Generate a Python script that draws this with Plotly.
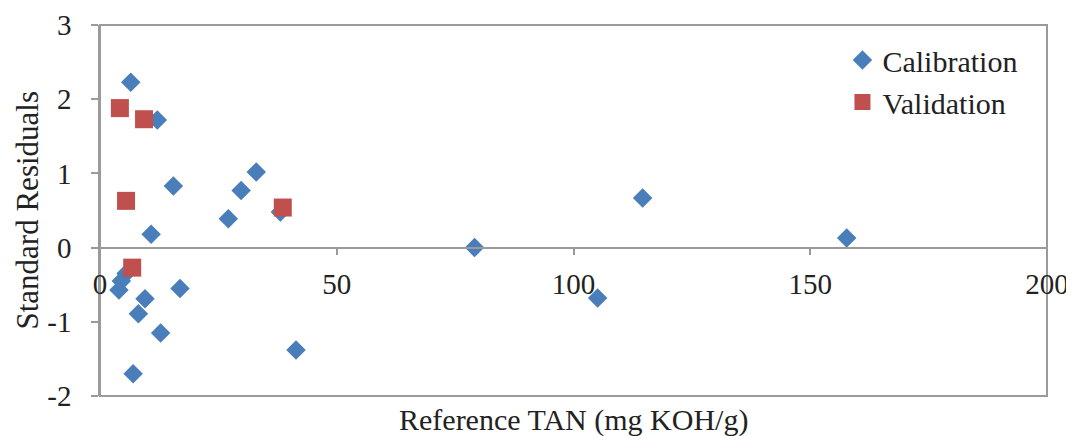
import plotly.graph_objects as go

# Calibration data (Reference TAN, Standard residual)
cal_x = [6.5, 12.1, 15.5, 33.0, 29.8, 27.1, 38.1, 10.8, 5.5, 4.5, 4.0, 9.5, 8.1, 16.9, 12.8, 41.4, 7.0,
         79.1, 105.1, 114.6, 157.7]
cal_y = [2.23, 1.72, 0.83, 1.02, 0.77, 0.39, 0.48, 0.18, -0.35, -0.45, -0.57, -0.69, -0.89, -0.55, -1.15, -1.38, -1.70,
         0.00, -0.68, 0.67, 0.13]

# Validation data
val_x = [4.2, 9.3, 5.5, 6.8, 38.6]
val_y = [1.88, 1.73, 0.63, -0.27, 0.54]

x_ticks = [0, 50, 100, 150, 200]
y_ticks = [-2, -1, 0, 1, 2, 3]
y_ticktext = ["-2", "-1", "0", "1", "2", "3"]

FONT = "Liberation Serif"
GRAY = "#9a9a9a"

fig = go.Figure()
fig.add_trace(go.Scatter(x=cal_x, y=cal_y, mode="markers", name="Calibration",
                         marker=dict(symbol="diamond", size=15, color="#4a7ebb")))
fig.add_trace(go.Scatter(x=val_x, y=val_y, mode="markers", name="Validation",
                         marker=dict(symbol="square", size=18, color="#c0504d")))

fig.update_layout(
    width=1074, height=436,
    margin=dict(l=92, r=35, t=17, b=48),
    paper_bgcolor="white", plot_bgcolor="white",
    font=dict(family=FONT, size=30, color="#222222"),
    showlegend=True,
    legend=dict(x=0.784, y=0.976, xanchor="left", yanchor="top",
                bgcolor="rgba(0,0,0,0)", font=dict(size=30, family=FONT)),
    xaxis=dict(range=[0, 200], tickvals=x_ticks, showgrid=False, zeroline=False,
               showline=True, linecolor=GRAY, linewidth=1.5, automargin=False,
               ticks="outside", ticklen=7, tickcolor=GRAY, tickwidth=1.5,
               anchor="free", position=0.4, ticklabelstandoff=4,
               tickfont=dict(size=29, family=FONT)),
    yaxis=dict(range=[-2, 3], tickvals=y_ticks, ticktext=y_ticktext, showgrid=False, zeroline=False,
               showline=True, linecolor=GRAY, linewidth=1.5, automargin=False,
               ticks="outside", ticklen=7, tickcolor=GRAY, tickwidth=1.5,
               ticklabelstandoff=14,
               tickfont=dict(size=29, family=FONT)),
    shapes=[dict(type="rect", xref="paper", yref="paper", x0=0, y0=0, x1=1, y1=1,
                 line=dict(color=GRAY, width=2), layer="below")],
    annotations=[
        dict(text="Reference TAN (mg KOH/g)", xref="paper", yref="paper", x=0.5, y=0,
             yshift=-24, xanchor="center", yanchor="middle", showarrow=False,
             font=dict(size=30, family=FONT)),
        dict(text="Standard Residuals", xref="paper", yref="paper", x=0, y=0.5,
             xshift=-73, textangle=-90, xanchor="center", yanchor="middle", showarrow=False,
             font=dict(size=31, family=FONT)),
    ],
)

fig.write_html("out.html")
